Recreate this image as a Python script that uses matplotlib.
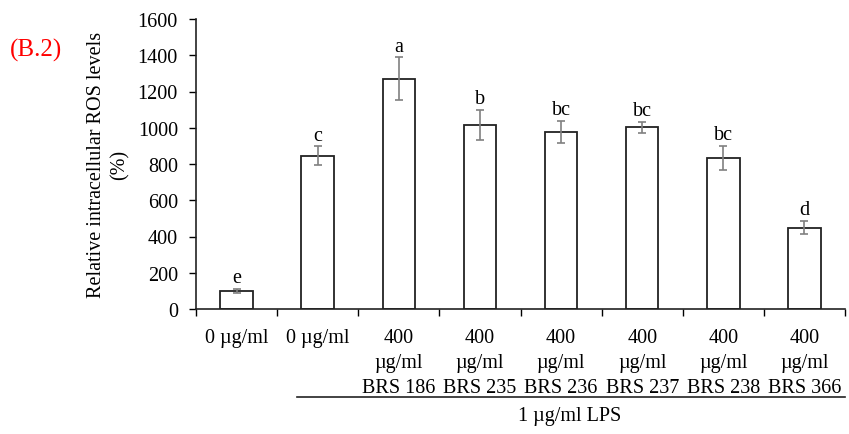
import matplotlib
matplotlib.use('Agg')
import matplotlib.pyplot as plt
import numpy as np
from matplotlib.ticker import MultipleLocator, FixedLocator

plt.rcParams['font.family'] = ['Liberation Serif', 'DejaVu Serif']

# ── Data ──────────────────────────────────────────────────────────────────────
labels = ['0 µg/ml', '0 µg/ml',
          '400\nµg/ml\nBRS 186', '400\nµg/ml\nBRS 235', '400\nµg/ml\nBRS 236',
          '400\nµg/ml\nBRS 237', '400\nµg/ml\nBRS 238', '400\nµg/ml\nBRS 366']
ros = [100, 845, 1270, 1015, 977, 1002, 833, 448]
err = [10, 52, 118, 83, 60, 30, 66, 36]
letters = ['e', 'c', 'a', 'b', 'bc', 'bc', 'bc', 'd']

FS = 14.5
x = np.arange(len(ros)) + 0.5

fig = plt.figure(figsize=(8.49, 4.35), dpi=100)
ax = fig.add_axes([196 / 849, 1 - 310 / 435, 649 / 849, 290 / 435])

ax.bar(x, ros, width=0.4, color='white', edgecolor='#222222', linewidth=1.3, zorder=2)
ax.errorbar(x, ros, yerr=err, fmt='none', ecolor='#808080', elinewidth=1.2,
            capsize=3, capthick=1.2, zorder=3)

for xi, v, e, lt in zip(x, ros, err, letters):
    ax.text(xi, v + e + 10, lt, ha='center', va='bottom', fontsize=FS)

ax.set_xlim(0, len(ros))
ax.set_ylim(0, 1600)
ax.yaxis.set_major_locator(MultipleLocator(200))
ax.tick_params(axis='y', labelsize=FS, direction='out', length=5, width=1, pad=8)

ax.set_xticks(x)
ax.set_xticklabels(labels, fontsize=FS, linespacing=1.42)
ax.tick_params(axis='x', which='major', length=0, pad=14)
ax.xaxis.set_minor_locator(FixedLocator(np.arange(len(ros) + 1)))
ax.tick_params(axis='x', which='minor', length=5, width=1, direction='out')

for side in ['top', 'right']:
    ax.spines[side].set_visible(False)
for side in ['left', 'bottom']:
    ax.spines[side].set_linewidth(1.2)
    ax.spines[side].set_color('#222222')

ax.set_ylabel('Relative intracellular ROS levels\n(%)', fontsize=FS, linespacing=1.3,
              labelpad=6)

# LPS bracket under the treated groups
trans = ax.get_xaxis_transform()
ax.plot([1.25, 8.0], [-0.305, -0.305], color='#222222', lw=1.2, transform=trans,
        clip_on=False)
ax.text(4.6, -0.335, '1 µg/ml LPS', ha='center', va='top', fontsize=FS, transform=trans)

fig.text(10 / 849, 1 - 50 / 435, '(B.2)', color='red', fontsize=18, va='center', ha='left')

fig.savefig('out.png', dpi=100)
